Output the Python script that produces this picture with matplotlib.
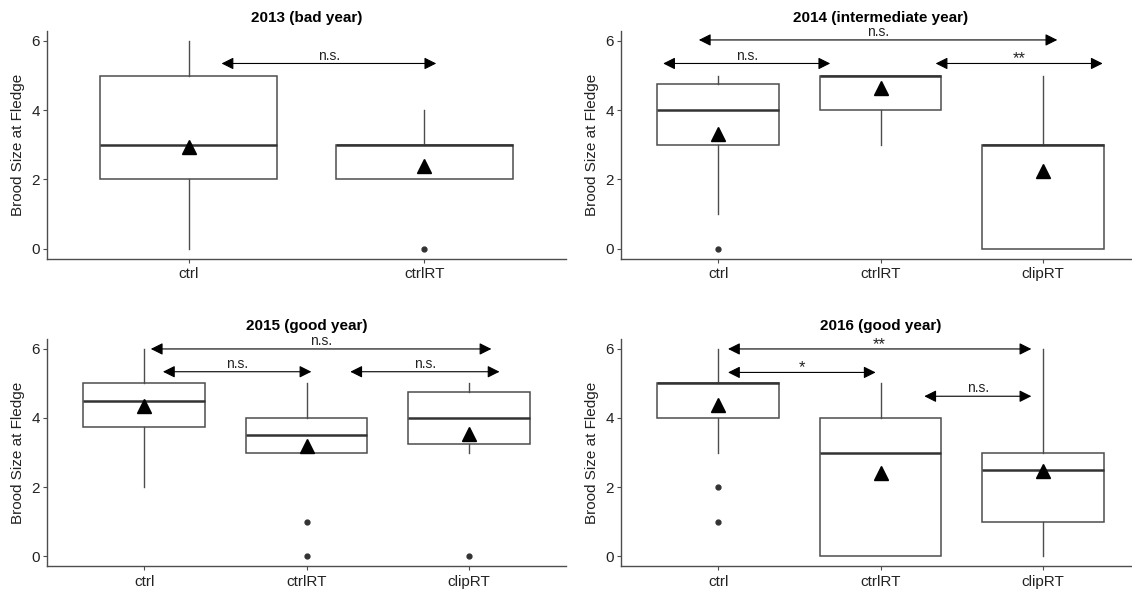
import matplotlib
matplotlib.use("Agg")
from matplotlib import pyplot as plt

plt.rcParams['font.family'] = ['Liberation Sans', 'DejaVu Sans']

# box statistics per year: q1, median, q3, whisker low, whisker high, outliers, mean
titles = ["2013 (bad year)", "2014 (intermediate year)",
          "2015 (good year)", "2016 (good year)"]
groups_2013 = ["ctrl", "ctrlRT"]
groups = ["ctrl", "ctrlRT", "clipRT"]

q1_2013 = [2, 2]
med_2013 = [3, 3]
q3_2013 = [5, 3]
lo_2013 = [0, 2]
hi_2013 = [6, 4]
out_2013 = [[], [0]]
mean_2013 = [2.95, 2.39]

q1_2014 = [3, 4, 0]
med_2014 = [4, 5, 3]
q3_2014 = [4.75, 5, 3]
lo_2014 = [1, 3, 0]
hi_2014 = [5, 5, 5]
out_2014 = [[0], [], []]
mean_2014 = [3.3, 4.63, 2.23]

q1_2015 = [3.75, 3, 3.25]
med_2015 = [4.5, 3.5, 4]
q3_2015 = [5, 4, 4.75]
lo_2015 = [2, 3, 3]
hi_2015 = [6, 5, 5]
out_2015 = [[], [1, 0], [0]]
mean_2015 = [4.35, 3.2, 3.55]

q1_2016 = [4, 0, 1]
med_2016 = [5, 3, 2.5]
q3_2016 = [5, 4, 3]
lo_2016 = [3, 0, 0]
hi_2016 = [6, 5, 6]
out_2016 = [[2, 1], [], []]
mean_2016 = [4.38, 2.41, 2.45]

# significance brackets: (x start, x end, y, label)
sig_2013 = [(1.14, 2.05, 5.35, "n.s.")]
sig_2014 = [(0.88, 3.09, 6.03, "n.s."), (0.66, 1.69, 5.35, "n.s."),
            (2.34, 3.37, 5.35, "**")]
sig_2015 = [(1.04, 3.14, 6.0, "n.s."), (1.115, 2.03, 5.34, "n.s."),
            (2.27, 3.19, 5.34, "n.s.")]
sig_2016 = [(1.06, 2.93, 6.0, "**"), (1.06, 1.97, 5.32, "*"),
            (2.27, 2.93, 4.63, "n.s.")]

panels = [
    (groups_2013, q1_2013, med_2013, q3_2013, lo_2013, hi_2013, out_2013, mean_2013, sig_2013),
    (groups, q1_2014, med_2014, q3_2014, lo_2014, hi_2014, out_2014, mean_2014, sig_2014),
    (groups, q1_2015, med_2015, q3_2015, lo_2015, hi_2015, out_2015, mean_2015, sig_2015),
    (groups, q1_2016, med_2016, q3_2016, lo_2016, hi_2016, out_2016, mean_2016, sig_2016),
]

W, H = 1132, 594
fig = plt.figure(figsize=(W / 100, H / 100), dpi=100)
boxes = [(47, 30.6, 259), (621, 30.6, 259), (47, 338.6, 566.4), (621, 338.6, 566.4)]
axw = 519

grey = '#4d4d4d'
for (left, top, bottom), title, p in zip(boxes, titles, panels):
    cats, q1, med, q3, lo, hi, out, means, sig = p
    ax = fig.add_axes([left / W, (H - bottom) / H, axw / W, (bottom - top) / H])
    stats = []
    for i, c in enumerate(cats):
        stats.append(dict(label=c, q1=q1[i], med=med[i], q3=q3[i],
                          whislo=lo[i], whishi=hi[i], fliers=out[i]))
    pos = list(range(1, len(cats) + 1))
    ax.bxp(stats, positions=pos, widths=0.75, showcaps=False, patch_artist=True,
           boxprops=dict(facecolor='white', edgecolor=grey, linewidth=1.1),
           whiskerprops=dict(color=grey, linewidth=1.0),
           medianprops=dict(color='#333333', linewidth=1.8),
           flierprops=dict(marker='o', markersize=3.5, markerfacecolor='#333333',
                           markeredgecolor='#333333'))
    ax.plot(pos, means, linestyle='none', marker='^', markersize=10.5,
            color='black', zorder=5)
    for x0, x1, y, lab in sig:
        ax.annotate('', xy=(x1, y), xytext=(x0, y),
                    arrowprops=dict(arrowstyle='<|-|>,head_length=0.6,head_width=0.3',
                                    color='black', lw=0.8, mutation_scale=12,
                                    shrinkA=0, shrinkB=0))
        if '*' in lab:
            ax.text((x0 + x1) / 2, y + 0.13, lab, ha='center', va='center',
                    fontsize=12, color='#222222')
        else:
            ax.text((x0 + x1) / 2, y + 0.23, lab, ha='center', va='center',
                    fontsize=10, color='#222222')
    ax.set_xlim(0.4, len(cats) + 0.6)
    ax.set_ylim(-0.3, 6.3)
    ax.set_yticks([0, 2, 4, 6])
    ax.set_xticks(pos)
    ax.set_xticklabels(cats)
    ax.set_title(title, fontsize=11, fontweight='bold', pad=6)
    ax.set_ylabel("Brood Size at Fledge", fontsize=11, labelpad=5, color='#222222')
    for s in ['top', 'right']:
        ax.spines[s].set_visible(False)
    for s in ['left', 'bottom']:
        ax.spines[s].set_color(grey)
        ax.spines[s].set_linewidth(1.0)
    ax.tick_params(axis='both', length=3, width=0.8, color=grey,
                   labelsize=11, labelcolor='#222222')
    ax.tick_params(axis='x', pad=3)
    ax.tick_params(axis='y', pad=2)

fig.savefig("out.png", dpi=100)
